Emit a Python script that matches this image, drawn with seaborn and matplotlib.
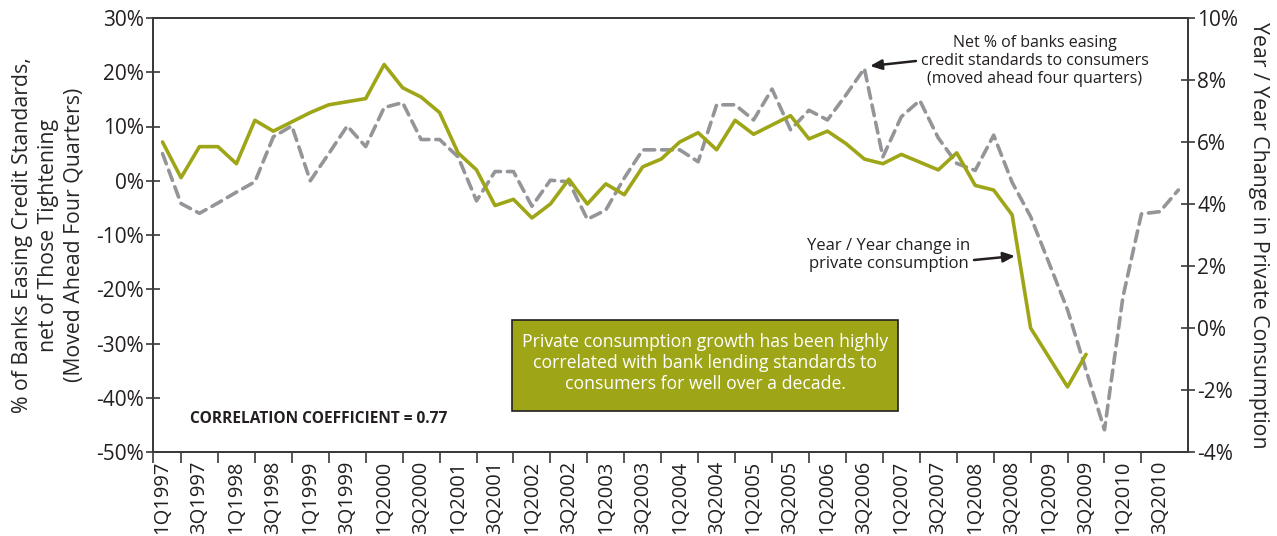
import matplotlib
matplotlib.use("Agg")
import matplotlib.pyplot as plt
from matplotlib.patches import Rectangle
from matplotlib.ticker import FixedLocator, NullFormatter
import numpy as np
import seaborn as sns

# Quarterly categories, 1Q1997 .. 4Q2010
quarters = [f"{q}Q{y}" for y in range(1997, 2011) for q in range(1, 5)]

# Net % of banks easing credit standards to consumers (moved ahead four quarters), left axis
credit_easing = [5.0, -4.2, -6.0, -4.1, -2.1, -0.2, 8.1, 10.1, 0.0, 5.0,
                 10.1, 6.3, 13.5, 14.4, 7.6, 7.6, 4.4, -3.7, 1.7, 1.7,
                 -4.7, 0.1, -0.2, -7.1, -5.4, 0.5, 5.7, 5.7, 5.7, 3.5,
                 14.0, 14.0, 11.2, 16.9, 9.4, 13.0, 11.2, 15.8, 20.7, 4.4,
                 11.8, 14.8, 7.9, 3.2, 1.9, 8.4, -0.3, -6.6, -15.2, -23.8,
                 -34.9, -45.9, -21.4, -6.1, -5.7, -1.7]

# Year / year change in private consumption, right axis (1Q1997 .. 3Q2009)
consumption_yoy = [6.0, 4.85, 5.85, 5.85, 5.3, 6.7, 6.35, 6.65, 6.95, 7.2,
                   7.3, 7.4, 8.5, 7.75, 7.45, 6.95, 5.65, 5.1, 3.95, 4.15,
                   3.55, 4.0, 4.8, 4.0, 4.65, 4.3, 5.2, 5.45, 6.0, 6.3,
                   5.75, 6.7, 6.25, 6.55, 6.85, 6.1, 6.35, 5.95, 5.45, 5.3,
                   5.6, 5.35, 5.1, 5.65, 4.6, 4.45, 3.65, 0.0, -0.95, -1.9,
                   -0.85]

left_ticks = [30, 20, 10, 0, -10, -20, -30, -40, -50]
right_ticks = [10, 8, 6, 4, 2, 0, -2, -4]

OLIVE = "#9EA618"
GRAY = "#939598"
INK = "#231F20"
AXIS = "#3a3a3a"

sns.set_style("white")
plt.rcParams["font.family"] = ["Open Sans", "DejaVu Sans"]
plt.rcParams["text.color"] = INK

W, H = 1277, 536
fig = plt.figure(figsize=(W / 100, H / 100), dpi=100)
ax = fig.add_axes([153.3 / W, 1 - 452 / H, (1187.6 - 153.3) / W, (452 - 18) / H])
ax2 = ax.twinx()

x_credit = np.arange(len(credit_easing))
x_cons = np.arange(len(consumption_yoy))

sns.lineplot(x=x_credit, y=credit_easing, ax=ax, color=GRAY, linewidth=2.6,
             dashes=False)
ax.lines[-1].set_dashes([3.0, 1.9])
ax.lines[-1].set_dash_capstyle("round")
sns.lineplot(x=x_cons, y=consumption_yoy, ax=ax2, color=OLIVE, linewidth=2.6)

ax.set_xlim(-0.5, len(quarters) - 0.5)
ax.set_ylim(-50, 30)
ax2.set_ylim(-4, 10)

# y axes
ax.set_yticks(left_ticks)
ax.set_yticklabels([f"{v}%" for v in left_ticks])
ax2.set_yticks(right_ticks)
ax2.set_yticklabels([f"{v}%" for v in right_ticks])
for a in (ax, ax2):
    a.tick_params(axis="y", direction="inout", length=10, width=1.2,
                  color=AXIS, labelsize=15, labelcolor=INK, pad=2)
    for s in a.spines.values():
        s.set_color(AXIS)
        s.set_linewidth(1.3)
    a.grid(False)
ax.tick_params(axis="y", left=True, right=False)
ax2.tick_params(axis="y", left=False, right=True)

# x axis: labels on 1Q/3Q, tick marks on 2Q/4Q
label_pos = list(range(0, len(quarters), 2))
ax.set_xticks(label_pos)
ax.set_xticklabels([quarters[i] for i in label_pos], rotation=90)
ax.tick_params(axis="x", length=0, labelsize=14.5, labelcolor=INK, pad=6)
ax.xaxis.set_minor_locator(FixedLocator([-0.5] + list(range(1, len(quarters) - 2, 2))))
ax.xaxis.set_minor_formatter(NullFormatter())
ax.tick_params(axis="x", which="minor", direction="out", length=8, width=1.2,
               color=AXIS, bottom=True)
ax.set_xlabel("")

ax.set_ylabel("% of Banks Easing Credit Standards,\nnet of Those Tightening\n(Moved Ahead Four Quarters)",
              fontsize=15.3, linespacing=1.3, labelpad=8)
ax2.set_ylabel("Year / Year Change in Private Consumption", fontsize=15.3,
               rotation=270, labelpad=22)


def px(x, y):
    return x / W, 1 - y / H


fig.text(*px(1035, 61), "Net % of banks easing\ncredit standards to consumers\n(moved ahead four quarters)",
         ha="center", va="center", fontsize=11.5, linespacing=1.15)
ax.annotate("", xy=px(870, 66), xytext=px(916, 61), xycoords="figure fraction",
            textcoords="figure fraction",
            arrowprops=dict(arrowstyle="-|>,head_length=0.7,head_width=0.3",
                            color=INK, lw=1.8, shrinkA=0, shrinkB=0))

fig.text(*px(889, 255), "Year / Year change in\nprivate consumption",
         ha="center", va="center", fontsize=12, linespacing=1.15)
ax.annotate("", xy=px(1015, 256), xytext=px(974, 260), xycoords="figure fraction",
            textcoords="figure fraction",
            arrowprops=dict(arrowstyle="-|>,head_length=0.7,head_width=0.3",
                            color=INK, lw=1.8, shrinkA=0, shrinkB=0))

fig.text(*px(190, 419), "CORRELATION COEFFICIENT = 0.77", ha="left", va="center",
         fontsize=11.2, fontweight="bold")

box = Rectangle(px(512, 411), (898 - 512) / W, (411 - 320) / H,
                transform=fig.transFigure, facecolor=OLIVE, edgecolor=INK,
                linewidth=1.2, zorder=5)
fig.patches.append(box)
fig.text(*px(705, 363), "Private consumption growth has been highly\ncorrelated with bank lending standards to\nconsumers for well over a decade.",
         ha="center", va="center", fontsize=12.7, color="white", linespacing=1.2,
         zorder=6)

fig.savefig("out.png", dpi=100)
